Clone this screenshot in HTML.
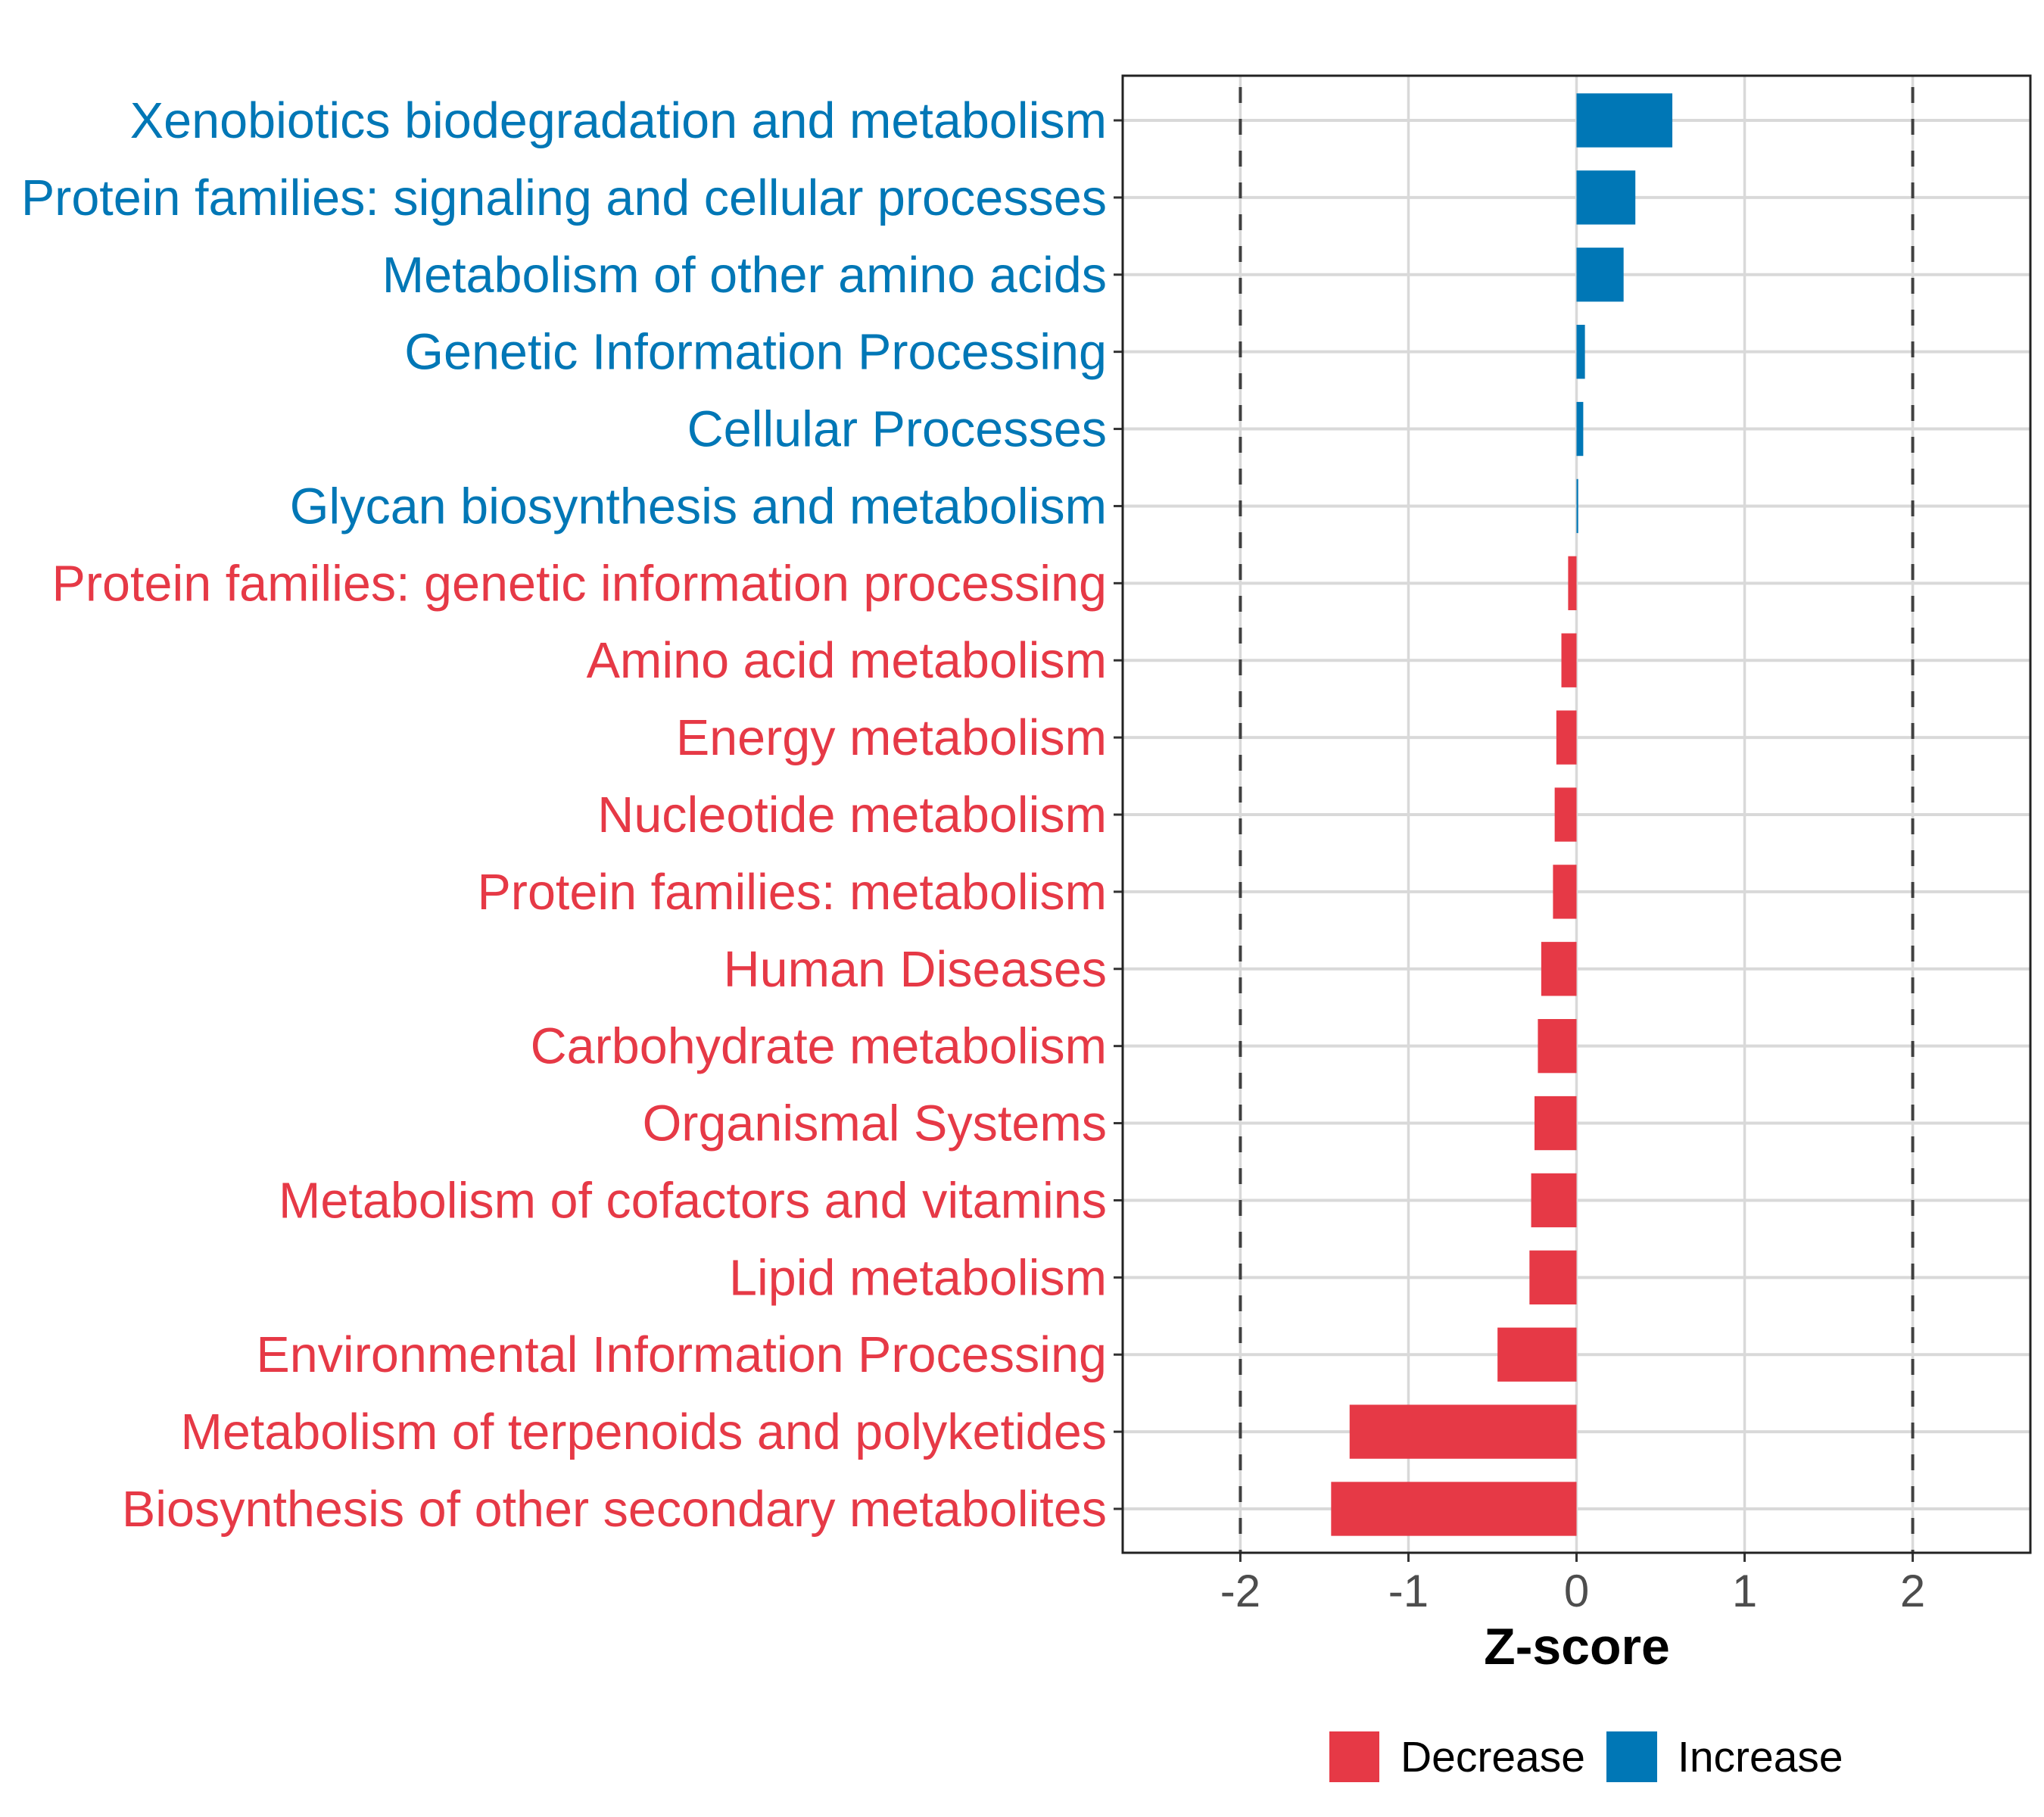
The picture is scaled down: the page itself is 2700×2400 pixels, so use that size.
<!DOCTYPE html>
<html><head><meta charset="utf-8"><style>
html,body{margin:0;padding:0;background:#fff;}
svg{display:block;font-family:"Liberation Sans",Arial,sans-serif;}
</style></head><body>
<svg id="chart" width="2700" height="2400" viewBox="0 0 2700 2400" xmlns="http://www.w3.org/2000/svg">
<rect x="0" y="0" width="2700" height="2400" fill="#fff"/>
<g id="grid"></g><g id="bars"></g><g id="labels"></g><g id="xticks"></g>
<rect x="1483" y="100" width="1199" height="1951" fill="none" stroke="#222" stroke-width="3"/>
<text x="2083" y="2198" font-size="68" font-weight="bold" text-anchor="middle" fill="#000">Z-score</text>
<rect x="1756" y="2287" width="66" height="67" fill="#e63946"/>
<text x="1850" y="2340" font-size="57" fill="#000">Decrease</text>
<rect x="2122" y="2287" width="67" height="67" fill="#0077b6"/>
<text x="2216" y="2340" font-size="57" fill="#000">Increase</text>
</svg>
<script>
const categories = ["Xenobiotics biodegradation and metabolism","Protein families: signaling and cellular processes","Metabolism of other amino acids","Genetic Information Processing","Cellular Processes","Glycan biosynthesis and metabolism","Protein families: genetic information processing","Amino acid metabolism","Energy metabolism","Nucleotide metabolism","Protein families: metabolism","Human Diseases","Carbohydrate metabolism","Organismal Systems","Metabolism of cofactors and vitamins","Lipid metabolism","Environmental Information Processing","Metabolism of terpenoids and polyketides","Biosynthesis of other secondary metabolites"];
const zscores = [0.57,0.35,0.28,0.05,0.04,0.01,-0.05,-0.09,-0.12,-0.13,-0.14,-0.21,-0.23,-0.25,-0.27,-0.28,-0.47,-1.35,-1.46];
const xTicks = [-2,-1,0,1,2];
const xTickLabels = ["-2","-1","0","1","2"];
const thresholds = [-2,2];

const NS="http://www.w3.org/2000/svg";
const X0=1483,X1=2682,Y0=100,Y1=2051;
const xMin=-2.7,xMax=2.7;
function xs(v){return X0+(v-xMin)/(xMax-xMin)*(X1-X0);}
const step=(1993-159)/(categories.length-1);
function ys(i){return 159+i*step;}
function mk(tag,attrs,parent){const e=document.createElementNS(NS,tag);for(const k in attrs)e.setAttribute(k,attrs[k]);parent.appendChild(e);return e;}
const grid=document.getElementById('grid'),bars=document.getElementById('bars'),labels=document.getElementById('labels'),xt=document.getElementById('xticks');
xTicks.forEach((t,i)=>{
  const l=mk('line',{x1:xs(t),x2:xs(t),y1:Y0,y2:Y1,stroke:'#d9d9d9','stroke-width':3.5},grid);
  
  
  const tk=mk('line',{x1:xs(t),x2:xs(t),y1:Y1,y2:Y1+12,stroke:'#333','stroke-width':3},xt);
  
  
  const tx=mk('text',{x:xs(t),y:2122,'font-size':60,'text-anchor':'middle',fill:'#4d4d4d'},xt);
  tx.textContent=xTickLabels[i];
  
  
});
categories.forEach((c,i)=>{
  const y=ys(i);
  const g=mk('line',{x1:X0,x2:X1,y1:y,y2:y,stroke:'#d9d9d9','stroke-width':4},grid);
  
  
});
thresholds.forEach(t=>{
  const d=mk('line',{x1:xs(t),x2:xs(t),y1:Y0,y2:Y1,stroke:'#404040','stroke-width':4,'stroke-dasharray':'21 21','stroke-dashoffset':'-15'},grid);
  
  
});
const bh=step*0.7;
categories.forEach((c,i)=>{
  const v=zscores[i],y=ys(i);
  const col=v>=0?'#0077b6':'#e63946';
  const a=xs(Math.min(0,v)),b=xs(Math.max(0,v));
  const r=mk('rect',{x:a,y:y-bh/2,width:Math.max(b-a,1.5),height:bh,fill:col},bars);
  
  
  const tk=mk('line',{x1:X0-12,x2:X0,y1:y,y2:y,stroke:'#333','stroke-width':3},labels);
  
  
  const t=mk('text',{x:1462,y:y+23,'font-size':66.5,'text-anchor':'end',fill:col},labels);
  t.textContent=c;
  
  
});
</script>
</body></html>
